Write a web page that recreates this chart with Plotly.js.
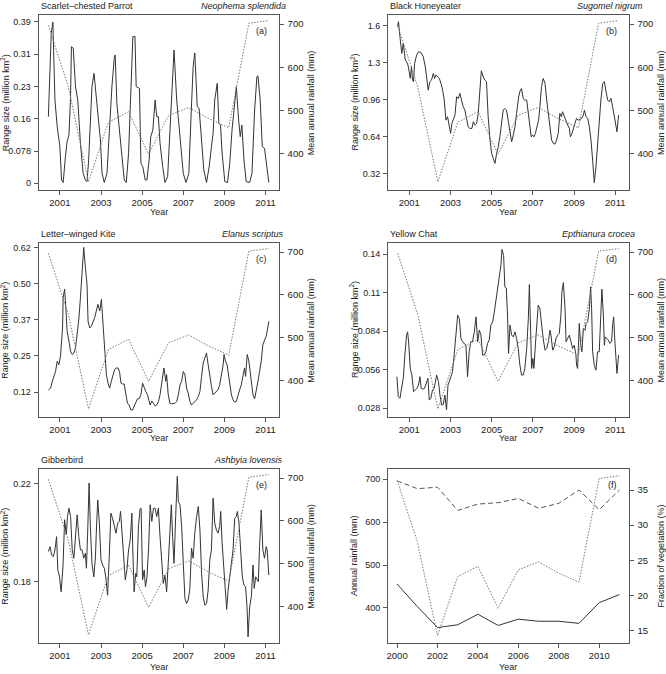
<!DOCTYPE html>
<html><head><meta charset="utf-8">
<script src="https://cdn.plot.ly/plotly-3.0.1.min.js"></script>
<style>html,body{margin:0;padding:0;background:#fff}#chart{width:666px;height:674px}</style>
</head><body><div id="chart"></div>
<script>
// ---------- DATA ----------
const rainYears = [2000,2001,2002,2003,2004,2005,2006,2007,2008,2009,2010,2011];
const rainfall  = [697,555,335,473,497,399,489,507,481,460,702,708];
// position of each annual rainfall point on the monthly time axes of panels (a)-(e)
const rainPos   = [2000.44,2001.41,2002.39,2003.36,2004.34,2005.31,2006.29,2007.26,2008.24,2009.21,2010.19,2011.16];
const vegSolid  = [21.6,18.4,15.4,15.8,17.3,15.7,16.6,16.3,16.3,16.0,18.95,20.1];
const vegDashed = [36.3,35.2,35.4,32.1,33.0,33.2,33.8,32.4,33.1,35.0,32.2,35.0];

// [decimal year, range size (million km²)]
const parrot = [[2000.44,0.160],[2000.58,0.360],[2000.66,0.387],[2000.76,0.200],[2000.87,0.136],[2001.00,0.088],[2001.08,0.008],[2001.16,0.002],[2001.27,0.064],[2001.35,0.100],[2001.44,0.116],[2001.52,0.208],[2001.56,0.328],[2001.65,0.324],[2001.76,0.232],[2001.87,0.200],[2002.00,0.096],[2002.13,0.024],[2002.24,0.008],[2002.32,0.004],[2002.40,0.056],[2002.48,0.136],[2002.56,0.232],[2002.66,0.264],[2002.77,0.200],[2002.84,0.176],[2002.97,0.104],[2003.05,0.024],[2003.16,0.002],[2003.29,0.024],[2003.42,0.136],[2003.53,0.232],[2003.65,0.304],[2003.69,0.308],[2003.77,0.192],[2003.89,0.120],[2004.02,0.064],[2004.13,0.008],[2004.23,0.002],[2004.34,0.072],[2004.42,0.200],[2004.55,0.352],[2004.65,0.353],[2004.71,0.232],[2004.87,0.228],[2004.94,0.048],[2005.03,0.040],[2005.15,0.008],[2005.23,0.008],[2005.34,0.056],[2005.42,0.112],[2005.52,0.128],[2005.63,0.200],[2005.71,0.160],[2005.79,0.160],[2005.87,0.096],[2006.00,0.040],[2006.11,0.002],[2006.24,0.016],[2006.35,0.120],[2006.47,0.240],[2006.55,0.320],[2006.68,0.200],[2006.79,0.136],[2006.89,0.088],[2007.00,0.024],[2007.13,0.002],[2007.27,0.024],[2007.39,0.176],[2007.48,0.280],[2007.56,0.313],[2007.68,0.184],[2007.77,0.180],[2007.89,0.104],[2008.00,0.032],[2008.13,0.002],[2008.26,0.040],[2008.37,0.088],[2008.45,0.120],[2008.53,0.200],[2008.65,0.240],[2008.73,0.144],[2008.81,0.140],[2008.89,0.072],[2009.02,0.004],[2009.15,0.002],[2009.26,0.048],[2009.37,0.128],[2009.48,0.184],[2009.58,0.232],[2009.69,0.152],[2009.77,0.112],[2009.85,0.140],[2009.95,0.056],[2010.06,0.004],[2010.23,0.002],[2010.34,0.024],[2010.47,0.176],[2010.58,0.256],[2010.63,0.258],[2010.74,0.200],[2010.84,0.088],[2010.95,0.084],[2011.03,0.056],[2011.16,0.002]];

const honeyeater = [[2000.43,1.589],[2000.48,1.632],[2000.55,1.502],[2000.60,1.430],[2000.64,1.358],[2000.71,1.445],[2000.76,1.387],[2000.81,1.301],[2000.87,1.287],[2000.94,1.258],[2001.00,1.200],[2001.05,1.143],[2001.11,1.243],[2001.16,1.128],[2001.21,1.114],[2001.26,1.272],[2001.36,1.344],[2001.45,1.373],[2001.57,1.367],[2001.68,1.330],[2001.78,1.243],[2001.86,1.128],[2001.92,1.042],[2002.00,1.114],[2002.08,1.128],[2002.17,1.186],[2002.23,1.143],[2002.29,1.172],[2002.38,1.157],[2002.46,1.143],[2002.54,1.100],[2002.62,1.042],[2002.70,0.956],[2002.78,0.783],[2002.86,0.812],[2002.94,0.726],[2003.01,0.668],[2003.07,0.754],[2003.14,0.798],[2003.22,0.826],[2003.30,0.985],[2003.38,0.970],[2003.46,1.013],[2003.54,0.956],[2003.62,0.898],[2003.70,0.870],[2003.78,0.798],[2003.86,0.726],[2003.94,0.711],[2004.04,0.711],[2004.11,0.769],[2004.19,0.740],[2004.27,0.754],[2004.35,0.841],[2004.43,1.042],[2004.50,1.209],[2004.59,1.157],[2004.67,1.128],[2004.75,1.114],[2004.83,0.812],[2004.92,0.611],[2005.00,0.496],[2005.08,0.452],[2005.16,0.409],[2005.24,0.496],[2005.32,0.553],[2005.40,0.639],[2005.48,0.783],[2005.56,0.870],[2005.64,0.884],[2005.72,0.870],[2005.81,0.769],[2005.89,0.697],[2005.97,0.596],[2006.05,0.654],[2006.13,0.726],[2006.21,0.841],[2006.31,0.985],[2006.39,1.042],[2006.45,1.056],[2006.53,0.970],[2006.61,0.956],[2006.70,0.956],[2006.78,0.841],[2006.86,0.711],[2006.92,0.639],[2006.99,0.654],[2007.05,0.639],[2007.12,0.668],[2007.20,0.726],[2007.28,0.783],[2007.34,0.898],[2007.42,1.071],[2007.50,1.143],[2007.59,1.100],[2007.67,0.956],[2007.75,0.841],[2007.83,0.726],[2007.91,0.611],[2007.99,0.582],[2008.07,0.576],[2008.15,0.611],[2008.23,0.668],[2008.31,0.841],[2008.38,0.812],[2008.44,0.855],[2008.52,0.812],[2008.61,0.783],[2008.69,0.740],[2008.77,0.711],[2008.82,0.639],[2008.90,0.668],[2008.96,0.711],[2009.04,0.754],[2009.12,0.798],[2009.20,0.783],[2009.28,0.789],[2009.37,0.798],[2009.45,0.826],[2009.50,0.870],[2009.58,0.812],[2009.66,0.798],[2009.74,0.726],[2009.82,0.611],[2009.90,0.438],[2009.98,0.243],[2010.06,0.381],[2010.14,0.582],[2010.22,0.783],[2010.30,0.956],[2010.39,1.100],[2010.47,1.114],[2010.55,1.028],[2010.63,0.956],[2010.71,0.941],[2010.79,0.970],[2010.87,0.898],[2010.95,0.812],[2011.03,0.711],[2011.08,0.683],[2011.16,0.826]];

const kite = [[2000.44,0.132],[2000.55,0.138],[2000.63,0.161],[2000.71,0.178],[2000.79,0.195],[2000.87,0.230],[2000.95,0.218],[2001.03,0.247],[2001.08,0.287],[2001.13,0.344],[2001.16,0.448],[2001.23,0.477],[2001.27,0.436],[2001.35,0.333],[2001.44,0.299],[2001.52,0.264],[2001.60,0.253],[2001.68,0.258],[2001.76,0.276],[2001.84,0.322],[2001.92,0.373],[2002.00,0.448],[2002.08,0.528],[2002.16,0.620],[2002.24,0.551],[2002.32,0.494],[2002.37,0.367],[2002.45,0.344],[2002.53,0.350],[2002.61,0.362],[2002.69,0.379],[2002.77,0.402],[2002.85,0.425],[2002.94,0.402],[2003.02,0.442],[2003.10,0.356],[2003.18,0.264],[2003.26,0.184],[2003.34,0.155],[2003.42,0.138],[2003.50,0.161],[2003.58,0.184],[2003.66,0.201],[2003.74,0.207],[2003.82,0.207],[2003.90,0.195],[2003.97,0.155],[2004.05,0.152],[2004.13,0.152],[2004.21,0.115],[2004.29,0.086],[2004.37,0.080],[2004.45,0.063],[2004.53,0.063],[2004.61,0.075],[2004.69,0.092],[2004.77,0.101],[2004.87,0.103],[2004.94,0.115],[2005.02,0.155],[2005.10,0.138],[2005.18,0.126],[2005.26,0.115],[2005.34,0.098],[2005.39,0.080],[2005.47,0.094],[2005.55,0.083],[2005.63,0.077],[2005.71,0.080],[2005.79,0.092],[2005.87,0.115],[2005.95,0.161],[2006.03,0.207],[2006.06,0.207],[2006.15,0.161],[2006.19,0.184],[2006.27,0.115],[2006.35,0.086],[2006.44,0.084],[2006.52,0.084],[2006.60,0.086],[2006.68,0.092],[2006.76,0.115],[2006.84,0.149],[2006.92,0.161],[2007.00,0.195],[2007.08,0.184],[2007.16,0.138],[2007.24,0.121],[2007.32,0.092],[2007.40,0.080],[2007.48,0.086],[2007.56,0.092],[2007.65,0.098],[2007.73,0.109],[2007.81,0.126],[2007.89,0.178],[2007.97,0.224],[2008.05,0.241],[2008.13,0.258],[2008.21,0.218],[2008.29,0.172],[2008.37,0.144],[2008.45,0.115],[2008.53,0.121],[2008.61,0.126],[2008.69,0.132],[2008.77,0.149],[2008.85,0.184],[2008.94,0.218],[2008.98,0.253],[2009.05,0.230],[2009.13,0.218],[2009.18,0.195],[2009.26,0.149],[2009.34,0.115],[2009.42,0.098],[2009.50,0.090],[2009.58,0.092],[2009.66,0.115],[2009.74,0.132],[2009.82,0.149],[2009.90,0.178],[2009.98,0.207],[2010.03,0.178],[2010.11,0.253],[2010.19,0.230],[2010.26,0.184],[2010.31,0.149],[2010.39,0.115],[2010.47,0.101],[2010.55,0.126],[2010.63,0.161],[2010.71,0.195],[2010.79,0.230],[2010.87,0.287],[2010.95,0.299],[2011.03,0.316],[2011.11,0.344],[2011.16,0.367]];

const chat = [[2000.40,0.0508],[2000.47,0.0363],[2000.55,0.0351],[2000.63,0.0423],[2000.71,0.0496],[2000.79,0.0665],[2000.87,0.0810],[2000.92,0.0834],[2000.97,0.0762],[2001.05,0.0568],[2001.13,0.0520],[2001.21,0.0399],[2001.29,0.0411],[2001.37,0.0423],[2001.45,0.0447],[2001.52,0.0508],[2001.58,0.0423],[2001.66,0.0418],[2001.74,0.0423],[2001.83,0.0471],[2001.91,0.0496],[2001.97,0.0338],[2002.05,0.0351],[2002.13,0.0411],[2002.21,0.0423],[2002.33,0.0520],[2002.42,0.0471],[2002.49,0.0375],[2002.57,0.0302],[2002.65,0.0307],[2002.73,0.0375],[2002.81,0.0266],[2002.88,0.0447],[2002.94,0.0471],[2003.02,0.0508],[2003.10,0.0544],[2003.18,0.0665],[2003.27,0.0834],[2003.35,0.0955],[2003.43,0.0931],[2003.51,0.0786],[2003.59,0.0762],[2003.67,0.0750],[2003.75,0.0737],[2003.83,0.0508],[2003.91,0.0689],[2003.99,0.0762],[2004.07,0.0762],[2004.16,0.0834],[2004.24,0.0943],[2004.32,0.0762],[2004.40,0.0846],[2004.48,0.0810],[2004.56,0.0665],[2004.64,0.0665],[2004.72,0.0689],[2004.80,0.0750],[2004.88,0.0774],[2004.96,0.0883],[2005.05,0.0907],[2005.13,0.0979],[2005.21,0.1064],[2005.29,0.1173],[2005.37,0.1221],[2005.45,0.1318],[2005.50,0.1434],[2005.58,0.1390],[2005.64,0.1161],[2005.71,0.1153],[2005.77,0.0955],[2005.82,0.0677],[2005.89,0.0883],[2005.97,0.0810],[2006.05,0.0798],[2006.13,0.0834],[2006.21,0.0786],[2006.29,0.0713],[2006.37,0.0592],[2006.45,0.0520],[2006.53,0.0520],[2006.61,0.0568],[2006.70,0.0713],[2006.78,0.0931],[2006.83,0.1178],[2006.89,0.0883],[2006.94,0.0568],[2007.00,0.0641],[2007.05,0.0568],[2007.12,0.0737],[2007.18,0.0883],[2007.26,0.1028],[2007.34,0.1003],[2007.42,0.0883],[2007.50,0.0786],[2007.59,0.0701],[2007.67,0.0713],[2007.75,0.0762],[2007.83,0.0846],[2007.88,0.0810],[2007.96,0.0701],[2008.04,0.0725],[2008.12,0.0786],[2008.20,0.0810],[2008.28,0.0822],[2008.36,0.0955],[2008.41,0.1124],[2008.48,0.1192],[2008.56,0.1003],[2008.61,0.0762],[2008.69,0.0786],[2008.77,0.0810],[2008.85,0.0762],[2008.93,0.0713],[2009.01,0.0737],[2009.09,0.0665],[2009.12,0.0592],[2009.17,0.0568],[2009.25,0.0895],[2009.32,0.0737],[2009.38,0.0689],[2009.45,0.0858],[2009.53,0.0846],[2009.58,0.0895],[2009.66,0.0907],[2009.74,0.1003],[2009.80,0.1161],[2009.85,0.1003],[2009.90,0.0689],[2009.98,0.0592],[2010.06,0.0556],[2010.14,0.0689],[2010.22,0.0689],[2010.30,0.1052],[2010.35,0.1144],[2010.42,0.0955],[2010.47,0.0737],[2010.51,0.0798],[2010.58,0.0786],[2010.66,0.0774],[2010.74,0.0750],[2010.82,0.0762],[2010.87,0.0883],[2010.92,0.0943],[2010.98,0.0762],[2011.03,0.0592],[2011.08,0.0532],[2011.16,0.0665]];

const gibberbird = [[2000.44,0.1923],[2000.52,0.1943],[2000.60,0.1909],[2000.68,0.1902],[2000.76,0.1930],[2000.84,0.1984],[2000.90,0.1848],[2000.98,0.1820],[2001.06,0.1759],[2001.15,0.1861],[2001.23,0.2053],[2001.31,0.1991],[2001.37,0.2066],[2001.44,0.2100],[2001.52,0.2066],[2001.60,0.1930],[2001.68,0.1896],[2001.76,0.1984],[2001.84,0.2073],[2001.92,0.1984],[2002.00,0.1930],[2002.08,0.1930],[2002.16,0.1896],[2002.24,0.1916],[2002.29,0.1855],[2002.35,0.1998],[2002.42,0.2203],[2002.48,0.2032],[2002.56,0.1875],[2002.65,0.1820],[2002.73,0.1902],[2002.77,0.1998],[2002.84,0.2134],[2002.92,0.2039],[2003.00,0.1889],[2003.08,0.1868],[2003.16,0.1855],[2003.24,0.1814],[2003.32,0.1745],[2003.40,0.1902],[2003.48,0.2080],[2003.56,0.2059],[2003.65,0.2032],[2003.73,0.1998],[2003.81,0.2039],[2003.89,0.2046],[2003.95,0.2087],[2004.02,0.2012],[2004.10,0.1930],[2004.18,0.1807],[2004.26,0.1848],[2004.34,0.1930],[2004.42,0.1971],[2004.50,0.2080],[2004.56,0.1889],[2004.61,0.1759],[2004.69,0.1834],[2004.74,0.1820],[2004.82,0.2025],[2004.90,0.2096],[2004.95,0.2100],[2005.02,0.1807],[2005.10,0.1848],[2005.16,0.1780],[2005.23,0.1814],[2005.31,0.1930],[2005.39,0.2114],[2005.47,0.2046],[2005.55,0.2100],[2005.63,0.2100],[2005.71,0.2066],[2005.79,0.2100],[2005.87,0.1984],[2005.95,0.1902],[2006.03,0.1793],[2006.11,0.1827],[2006.19,0.1759],[2006.27,0.1875],[2006.35,0.2025],[2006.42,0.2114],[2006.48,0.1984],[2006.55,0.1875],[2006.63,0.2066],[2006.71,0.2230],[2006.76,0.2128],[2006.84,0.2114],[2006.92,0.2025],[2007.00,0.1861],[2007.08,0.1732],[2007.16,0.1711],[2007.24,0.1725],[2007.32,0.1773],[2007.40,0.1937],[2007.48,0.1896],[2007.56,0.1998],[2007.65,0.2066],[2007.73,0.2107],[2007.81,0.2012],[2007.89,0.1834],[2007.97,0.1739],[2008.05,0.1704],[2008.13,0.1711],[2008.21,0.1766],[2008.29,0.1889],[2008.37,0.1930],[2008.45,0.2141],[2008.53,0.2039],[2008.61,0.2012],[2008.69,0.1998],[2008.77,0.2025],[2008.82,0.2087],[2008.89,0.1957],[2008.97,0.1848],[2009.05,0.1725],[2009.11,0.1687],[2009.18,0.1766],[2009.26,0.1834],[2009.34,0.1875],[2009.42,0.1930],[2009.50,0.2059],[2009.58,0.2066],[2009.63,0.2087],[2009.71,0.2039],[2009.79,0.1916],[2009.87,0.1820],[2009.95,0.1786],[2010.03,0.1780],[2010.10,0.1698],[2010.15,0.1575],[2010.23,0.1698],[2010.31,0.1739],[2010.39,0.1868],[2010.45,0.1773],[2010.52,0.1820],[2010.58,0.1807],[2010.65,0.1800],[2010.71,0.1943],[2010.79,0.2093],[2010.87,0.1930],[2010.95,0.1896],[2011.03,0.1943],[2011.08,0.1930],[2011.16,0.1827]];

// tick labels
const parrotTicks = [0,0.0775,0.155,0.2325,0.31,0.3875], parrotLabels = ['0','0.078','0.16','0.23','0.31','0.39'];
const honeyTicks  = [0.32,0.64,0.96,1.28,1.6],            honeyLabels  = ['0.32','0.64','0.96','1.3','1.6'];
const kiteTicks   = [0.124,0.248,0.372,0.496,0.62],       kiteLabels   = ['0.12','0.25','0.37','0.50','0.62'];
const chatTicks   = [0.028,0.056,0.084,0.112,0.14],       chatLabels   = ['0.028','0.056','0.084','0.11','0.14'];
const gibberTicks = [0.18,0.22],                          gibberLabels = ['0.18','0.22'];
const rainTicks   = [400,500,600,700];
const vegTicks    = [15,20,25,30,35];
const yearTicksMonthly = [2001,2003,2005,2007,2009,2011];
const yearTicksAnnual  = [2000,2002,2004,2006,2008,2010];

// ---------- LAYOUT ----------
const W = 666, H = 674;
const FONT = '"Liberation Sans", Arial, sans-serif';
const INK = '#222', AXC = '#555', LINE = '#333', RAINC = '#777';
const fx = v => v / W, fy = v => 1 - v / H;
const COLS = {L: [38.7, 278.7], R: [388, 628.5]};
const ROWS = [[15, 190], [243, 417], [469, 643]];
const YEAR_OFF = [22, 21, 24];

const panels = [
  {series: parrot,     col: 'L', row: 0, yr: [-0.016, 0.404], tv: parrotTicks, tt: parrotLabels, name: 'Scarlet\u2013chested Parrot', sp: 'Neophema splendida', spEnd: 288, tag: '(a)'},
  {series: honeyeater, col: 'R', row: 0, yr: [0.18, 1.69],    tv: honeyTicks,  tt: honeyLabels,  name: 'Black Honeyeater',             sp: 'Sugomel nigrum',    spEnd: 645, tag: '(b)'},
  {series: kite,       col: 'L', row: 1, yr: [0.039, 0.635],  tv: kiteTicks,   tt: kiteLabels,   name: 'Letter\u2013winged Kite',      sp: 'Elanus scriptus',   spEnd: 286, tag: '(c)'},
  {series: chat,       col: 'R', row: 1, yr: [0.0215, 0.148], tv: chatTicks,   tt: chatLabels,   name: 'Yellow Chat',                  sp: 'Epthianura crocea', spEnd: 637, tag: '(d)'},
  {series: gibberbird, col: 'L', row: 2, yr: [0.155, 0.226],  tv: gibberTicks, tt: gibberLabels, name: 'Gibberbird',                   sp: 'Ashbyia lovensis',  spEnd: 285, tag: '(e)'}
];

const baseAxis = {
  showline: true, linecolor: AXC, linewidth: 1, mirror: true,
  ticks: 'outside', ticklen: 4, tickwidth: 1, tickcolor: AXC,
  showgrid: false, zeroline: false, tickfont: {family: FONT, size: 9.5, color: INK},
  fixedrange: true, ticklabelstandoff: 2
};

const traces = [];
const layout = {
  width: W, height: H, margin: {l: 0, r: 0, t: 0, b: 0},
  paper_bgcolor: '#fff', plot_bgcolor: '#fff', showlegend: false,
  font: {family: FONT, size: 9.5, color: INK},
  annotations: []
};
const ann = (text, x, y, o) => layout.annotations.push(Object.assign({
  text: text, x: x, y: y, xref: 'paper', yref: 'paper', showarrow: false,
  font: {family: FONT, size: 9, color: INK}
}, o || {}));

function addPanel(i, cfg) {
  const xs = i === 1 ? '' : String(i);
  const yl = 2 * i - 1, yr = 2 * i;
  const xName = 'x' + xs, ylName = yl === 1 ? 'y' : 'y' + yl, yrName = 'y' + yr;
  const col = COLS[cfg.col], row = ROWS[cfg.row];
  const xdom = [fx(col[0]), fx(col[1])], ydom = [fy(row[1]), fy(row[0])];
  layout['xaxis' + xs] = Object.assign({}, baseAxis, {domain: xdom, anchor: ylName, range: cfg.xr, tickvals: cfg.xt, ticktext: cfg.xt.map(String), ticklabelstandoff: 0});
  layout['yaxis' + (yl === 1 ? '' : yl)] = Object.assign({}, baseAxis, {domain: ydom, anchor: xName, range: cfg.yr, tickvals: cfg.tv, ticktext: cfg.tt,
    ticklabelstandoff: 1, tickfont: {family: FONT, size: 9, color: INK}});
  layout['yaxis' + yr] = Object.assign({}, baseAxis, {overlaying: ylName, side: 'right', anchor: xName, range: cfg.yr2, tickvals: cfg.tv2, ticktext: cfg.tv2.map(String), mirror: false});
  const xc = fx((col[0] + col[1]) / 2), yc = fy((row[0] + row[1]) / 2);
  ann('Year', xc, fy(row[1] + YEAR_OFF[cfg.row]), {xanchor: 'center', yanchor: 'middle'});
  ann(cfg.ylTitle, fx(col[0] - 34), yc, {textangle: -90, xanchor: 'center', yanchor: 'middle'});
  ann(cfg.yrTitle, fx(col[1] + 32), yc, {textangle: -90, xanchor: 'center', yanchor: 'middle'});
  ann(cfg.tag, fx(col[1] - 10), fy(row[0] + 16), {xanchor: 'right', yanchor: 'middle'});
  if (cfg.name) {
    ann(cfg.name, fx(col[0]), fy(row[0] - 9), {xanchor: 'left', yanchor: 'middle'});
    ann('<i>' + cfg.sp + '</i>', fx(cfg.spEnd), fy(row[0] - 9), {xanchor: 'right', yanchor: 'middle'});
  }
  return {x: xName, yl: ylName, yr: yrName};
}

panels.forEach((p, k) => {
  const ax = addPanel(k + 1, Object.assign({}, p, {
    xr: [1999.97, 2011.64], xt: yearTicksMonthly,
    yr2: [316, 721], tv2: rainTicks,
    ylTitle: 'Range size (million km<sup>2</sup>)', yrTitle: 'Mean annual rainfall (mm)'
  }));
  traces.push({type: 'scatter', mode: 'lines', x: p.series.map(d => d[0]), y: p.series.map(d => d[1]),
    xaxis: ax.x, yaxis: ax.yl, line: {color: LINE, width: 1}, hoverinfo: 'skip'});
  traces.push({type: 'scatter', mode: 'lines', x: rainPos, y: rainfall,
    xaxis: ax.x, yaxis: ax.yr, line: {color: RAINC, width: 1, dash: '1.5px,1.5px'}, hoverinfo: 'skip'});
});

// panel (f)
const axf = addPanel(6, {col: 'R', row: 2, xr: [1999.55, 2011.45], xt: yearTicksAnnual,
  yr: [318, 724], tv: rainTicks, tt: rainTicks.map(String),
  yr2: [13.2, 38.0], tv2: vegTicks, tag: '(f)',
  ylTitle: 'Annual rainfall (mm)', yrTitle: 'Fraction of vegetation (%)'});
traces.push({type: 'scatter', mode: 'lines', x: rainYears, y: rainfall, xaxis: axf.x, yaxis: axf.yl,
  line: {color: RAINC, width: 1, dash: '1.5px,1.5px'}, hoverinfo: 'skip'});
traces.push({type: 'scatter', mode: 'lines', x: rainYears, y: vegDashed, xaxis: axf.x, yaxis: axf.yr,
  line: {color: '#555', width: 1, dash: '5px,3px'}, hoverinfo: 'skip'});
traces.push({type: 'scatter', mode: 'lines', x: rainYears, y: vegSolid, xaxis: axf.x, yaxis: axf.yr,
  line: {color: LINE, width: 1}, hoverinfo: 'skip'});

Plotly.newPlot('chart', traces, layout, {staticPlot: true, displayModeBar: false});
</script>
</body></html>
